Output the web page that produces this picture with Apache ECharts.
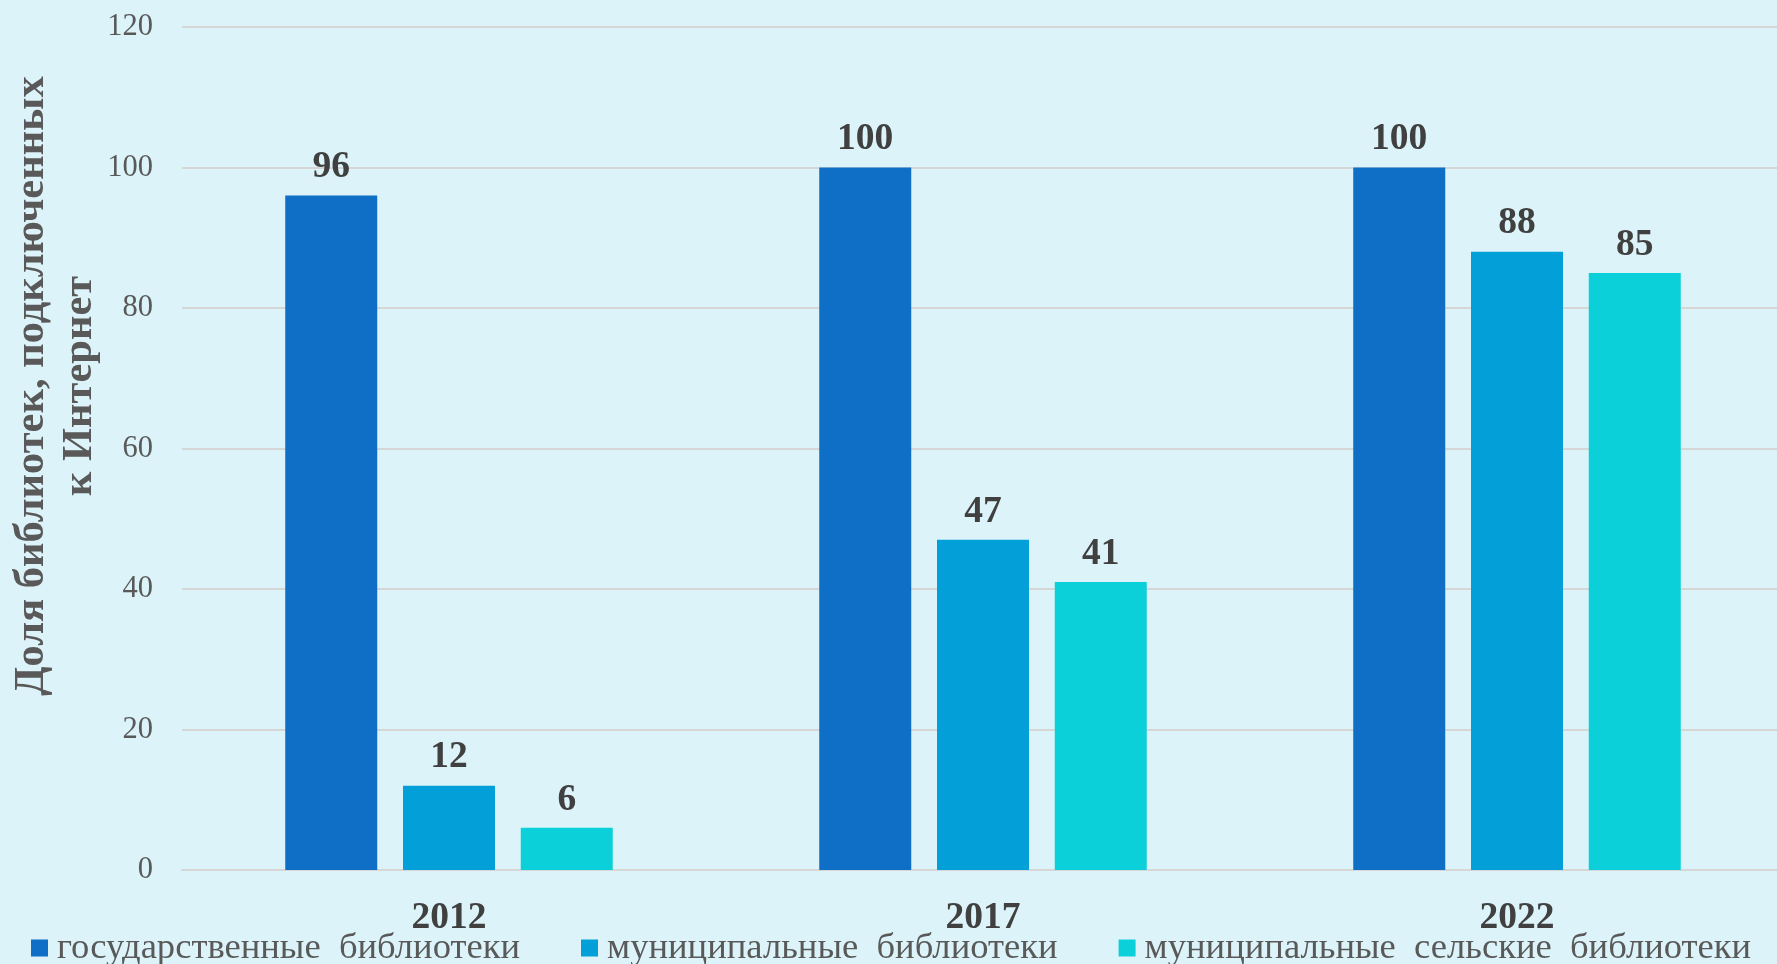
<!DOCTYPE html>
<html>
<head>
<meta charset="utf-8">
<style>
html,body{margin:0;padding:0;background:#DCF4F9;}
#chart{width:1777px;height:964px;}
</style>
<script src="https://cdn.jsdelivr.net/npm/echarts@6/dist/echarts.min.js"></script>
</head>
<body>
<div id="chart"></div>
<script>
const categories = ['2012', '2017', '2022'];
const seriesNames = ['государственные  библиотеки', 'муниципальные  библиотеки', 'муниципальные  сельские  библиотеки'];
const stateValues = [96, 100, 100];
const municipalValues = [12, 47, 88];
const ruralValues = [6, 41, 85];
const yTicks = [0, 20, 40, 60, 80, 100, 120];
const yTitle = 'Доля библиотек, подключенных\nк Интернет';
const colors = ['#0F6EC6', '#029FD8', '#0CD0D9'];

const font = '"Liberation Serif", "Times New Roman", serif';
const chart = echarts.init(document.getElementById('chart'));

function makeSeries(name, data, color) {
  return {
    name: name,
    type: 'bar',
    data: data,
    barWidth: 92,
    barGap: '28%',
    itemStyle: { color: color },
    label: {
      show: true,
      position: 'top',
      distance: 9,
      fontFamily: font,
      fontWeight: 'bold',
      fontSize: 37.5,
      color: '#404040'
    }
  };
}

chart.setOption({
  backgroundColor: '#DCF4F9',
  animation: false,
  textStyle: { fontFamily: font },
  grid: { left: 182, top: 27, width: 1602, height: 843, containLabel: false, outerBoundsMode: 'none' },
  legend: {
    left: 31,
    top: 928,
    padding: 0,
    itemWidth: 17,
    itemHeight: 17,
    itemGap: 61,
    icon: 'rect',
    data: seriesNames,
    textStyle: { fontFamily: font, fontSize: 36.6, color: '#595959', lineHeight: 40, padding: [0, 0, 0, 4] }
  },
  xAxis: {
    type: 'category',
    data: categories,
    axisLine: { show: true, lineStyle: { color: '#D6D6D6', width: 2 } },
    axisTick: { show: false },
    axisLabel: { fontFamily: font, fontSize: 37.5, fontWeight: 'bold', color: '#404040', margin: 29 }
  },
  yAxis: {
    type: 'value',
    min: yTicks[0],
    max: yTicks[yTicks.length - 1],
    interval: yTicks[1] - yTicks[0],
    axisLine: { show: false },
    axisTick: { show: false },
    splitLine: { lineStyle: { color: '#D6D6D6', width: 2 } },
    axisLabel: { fontFamily: font, fontSize: 30.5, color: '#595959', margin: 29 }
  },
  graphic: [{
    type: 'text',
    x: 56,
    y: 386,
    rotation: Math.PI / 2,
    style: {
      text: yTitle,
      fontFamily: font,
      fontWeight: 'bold',
      fontSize: 42.5,
      lineHeight: 48,
      fill: '#595959',
      align: 'center',
      verticalAlign: 'middle'
    }
  }],
  series: [
    makeSeries(seriesNames[0], stateValues, colors[0]),
    makeSeries(seriesNames[1], municipalValues, colors[1]),
    makeSeries(seriesNames[2], ruralValues, colors[2])
  ]
});
</script>
</body>
</html>
